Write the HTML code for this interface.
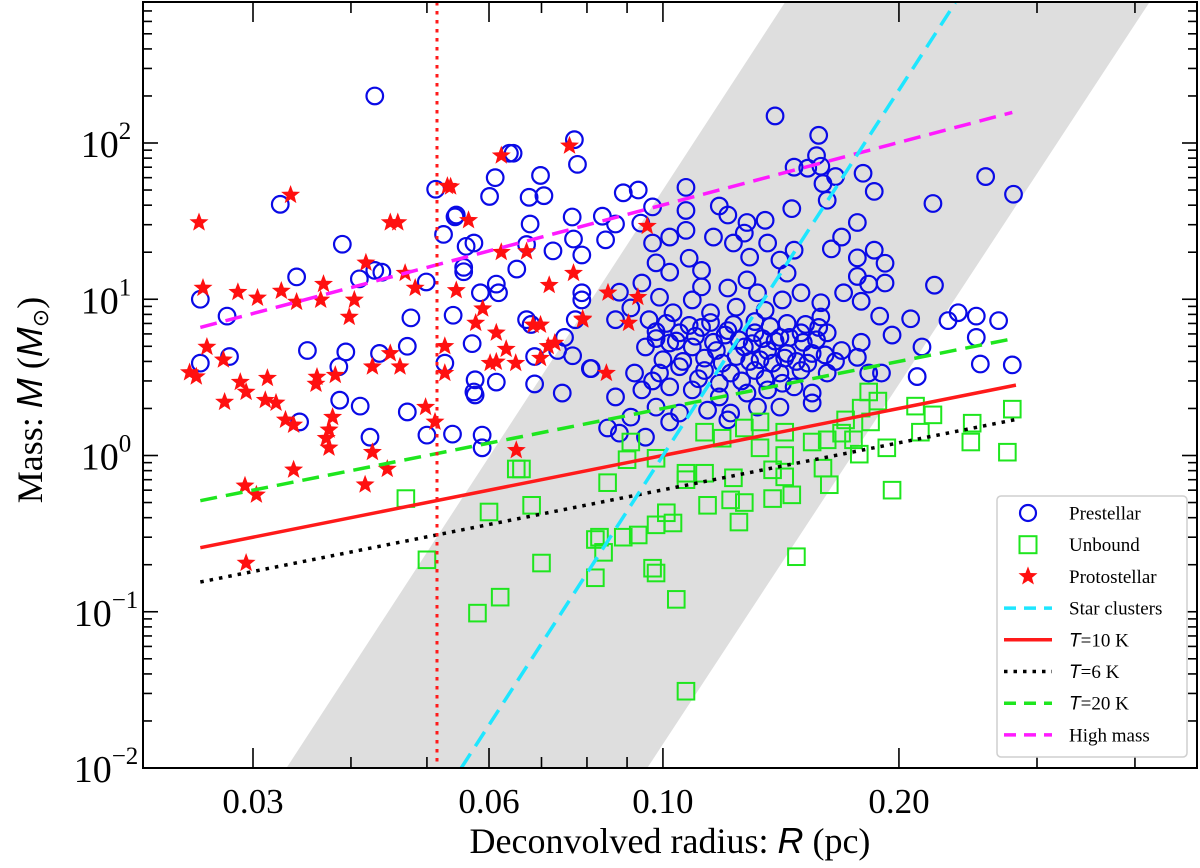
<!DOCTYPE html>
<html><head><meta charset="utf-8">
<style>
html,body{margin:0;padding:0;background:#fff;}
svg{display:block;font-family:"Liberation Serif",serif;}
</style></head>
<body>
<svg id="chart" width="1200" height="868" viewBox="0 0 1200 868" xmlns="http://www.w3.org/2000/svg">
<defs><clipPath id="plotclip"><rect x="143" y="2" width="1054" height="766"/></clipPath></defs>
<g id="band" clip-path="url(#plotclip)"></g>
<g id="pts" clip-path="url(#plotclip)"></g>
<g id="lines" clip-path="url(#plotclip)"></g>
<g id="axes"></g>
<g id="legend"></g>
<text x="670" y="853" font-size="36" text-anchor="middle">Deconvolved radius: <tspan font-family="Liberation Sans, sans-serif" font-style="italic">R</tspan> (pc)</text>
<text transform="translate(42,400) rotate(-90)" font-size="36" text-anchor="middle">Mass: <tspan font-family="Liberation Sans, sans-serif" font-style="italic">M</tspan> (<tspan font-family="Liberation Sans, sans-serif" font-style="italic">M</tspan><tspan font-size="22" dy="6">⊙</tspan><tspan dy="-6">)</tspan></text>
</svg>
<script>
const prestellarR=[0.0429,0.0325,0.0390,0.0341,0.0257,0.0278,0.0280,0.0257,0.0352,0.0394,0.0386,0.0435,0.0472,0.0477,0.0499,0.0410,0.0429,0.0438,0.0513,0.0637,0.0644,0.0611,0.0601,0.0675,0.0698,0.0705,0.0771,0.0778,0.0543,0.0545,0.0525,0.0561,0.0574,0.0557,0.0557,0.0677,0.0670,0.0651,0.0724,0.0766,0.0769,0.0788,0.0585,0.0613,0.0617,0.0540,0.0571,0.0527,0.0576,0.0576,0.0574,0.0613,0.0670,0.0679,0.0686,0.0744,0.0734,0.0749,0.0767,0.0773,0.0788,0.0788,0.0686,0.0808,0.0387,0.0411,0.0344,0.0423,0.0472,0.0500,0.0539,0.0588,0.0588,
0.139,0.158,0.157,0.147,0.153,0.159,0.166,0.160,0.162,0.180,0.186,0.258,0.280,0.221,0.177,0.169,0.164,0.177,0.186,0.192,0.177,0.183,0.192,0.170,0.179,0.222,0.189,0.207,0.196,0.231,0.238,0.251,0.268,0.251,0.214,0.254,0.279,0.211,0.179,0.183,0.190,
0.107,0.089,0.093,0.097,0.107,0.118,0.121,0.146,0.0837,0.087,0.0845,0.0937,0.097,0.102,0.135,0.128,0.127,0.136,0.107,0.116,0.123,0.147,0.129,0.098,0.102,0.112,0.108,0.141,0.144,0.121,0.112,0.094,0.088,0.099,0.091,0.087,0.096,0.103,0.109,0.128,0.132,0.150,0.142,0.159,0.115,0.124,0.135,0.159,0.098,0.105,0.112,0.121,0.131,0.141,0.150,0.162,0.095,0.102,0.109,0.117,0.127,0.136,0.144,0.155,0.169,0.177,0.081,0.092,0.099,0.105,0.113,0.122,0.131,0.141,0.150,0.162,0.087,0.094,0.102,0.109,0.118,0.128,0.136,0.147,0.155,0.091,0.098,0.105,0.114,0.122,0.132,0.141,0.155,0.085,0.102,0.121,0.095,0.088,
0.098,0.104,0.110,0.116,0.120,0.125,0.130,0.134,0.139,0.145,0.151,0.157,0.100,0.106,0.113,0.119,0.124,0.129,0.133,0.138,0.143,0.148,0.153,0.161,0.166,0.101,0.108,0.115,0.123,0.131,0.137,0.144,0.152,0.158,0.097,0.111,0.118,0.126,0.135,0.142];
const prestellarM=[200,40.5,22.5,13.9,10,7.8,4.3,3.9,4.7,4.6,3.7,4.5,5.0,7.6,12.9,13.5,15.3,14.9,50.6,86,86,60,45.5,44.9,62,46,105,73,33.7,34.6,26,21.8,22.9,16,15,30.3,22.4,15.6,20.4,33.6,24.3,19.2,11,12.5,11,7.9,5.2,3.9,3.05,2.44,2.55,2.95,7.4,6.9,2.87,2.51,4.7,5.7,4.35,7.4,11,9.9,4.3,3.6,2.26,2.07,1.64,1.31,1.9,1.35,1.37,1.35,1.12,
149,112,83,70,69,71,61,55,43,64,49,61,47,41,31,25,21,18.4,20.6,17,14,12.5,12.7,11,9.7,12.3,7.8,7.5,5.9,7.3,8.2,7.8,7.3,5.7,4.95,3.85,3.8,3.2,5.3,3.37,3.37,
52,48,50,39,37,39.5,34.6,38,34,30.3,24,30.7,22.9,25,32,31,26.5,22.9,27.6,25,22.9,20.6,18.6,17.1,14.9,15.3,18.3,17.8,14.7,11.8,12,12.7,11.1,10.3,8.8,7.4,7.4,8.2,9.9,13.3,11,11,9.9,9.5,8.2,8.9,8.5,7.7,6.2,6.1,6.6,6.3,6.1,5.7,6.1,6.1,4.95,5.25,4.95,4.7,4.95,4.7,4.5,4.5,4.7,4.25,3.6,3.37,3.37,3.7,3.5,3.37,3.5,3.37,3.5,3.37,2.37,2.63,2.75,2.63,2.37,2.51,2.63,2.75,2.51,1.76,2.04,1.87,1.95,1.87,2.04,2.04,2.17,1.5,1.64,1.69,1.31,1.39,
5.6,5.4,5.8,5.3,5.9,5.5,5.2,5.6,5.4,5.7,5.3,5.5,4.1,4.0,4.2,3.9,4.3,4.0,4.1,3.9,4.2,4.0,3.9,4.4,4.0,7.0,6.8,7.1,6.9,7.2,6.7,7.0,6.9,6.6,3.0,3.1,2.9,3.0,3.1,2.9];
const unboundR=[0.279,0.275,0.248,0.247,0.221,0.210,0.213,0.193,0.196,0.183,0.188,0.184,0.179,0.171,0.175,0.178,0.169,0.162,0.155,0.160,0.163,0.148,0.146,0.143,0.143,0.143,0.138,0.138,0.133,0.133,0.127,0.123,0.127,0.122,0.125,0.114,0.113,0.107,0.107,0.113,0.119,0.098,0.090,0.091,0.085,0.101,0.103,0.098,0.093,0.089,0.083,0.084,0.082,0.097,0.098,0.104,0.107,0.047,0.050,0.060,0.068,0.070,0.058,0.062,0.065,0.066,0.082];
const unboundM=[1.98,1.05,1.61,1.22,1.82,2.07,1.41,1.12,0.60,2.55,2.23,1.64,2.01,1.69,1.26,1.02,1.39,1.26,1.22,0.83,0.65,0.225,0.56,0.73,1.0,1.41,0.81,0.53,1.12,1.64,1.5,0.72,0.50,0.52,0.375,0.48,0.77,0.70,0.77,1.41,1.29,0.96,0.94,1.22,0.67,0.43,0.37,0.36,0.31,0.30,0.30,0.24,0.165,0.19,0.177,0.12,0.031,0.53,0.215,0.435,0.48,0.205,0.098,0.124,0.82,0.82,0.29];
const protoR=[0.0256,0.0335,0.0449,0.0459,0.0622,0.0760,0.0531,0.0536,0.0565,0.0259,0.0287,0.0304,0.0326,0.0341,0.0369,0.0366,0.0404,0.0398,0.0418,0.0469,0.0483,0.0545,0.0622,0.0670,0.0769,0.0716,0.0589,0.0577,0.0613,0.0631,0.0602,0.0613,0.0649,0.0683,0.0698,0.0714,0.0728,0.0698,0.0790,0.0527,0.0527,0.0262,0.0275,0.0249,0.0254,0.0289,0.0294,0.0313,0.0276,0.0311,0.0321,0.0330,0.0338,0.0362,0.0361,0.0382,0.0426,0.0449,0.0462,0.0379,0.0375,0.0372,0.0375,0.0498,0.0512,0.0426,0.0650,0.0338,0.0445,0.0293,0.0303,0.0417,0.0294,0.0955,0.0851,0.0929,0.0790,0.0904,0.0847];
const protoM=[31,46.5,31,31,83,96,53,52.5,32,11.8,11.1,10.2,11.3,9.6,12.5,9.9,9.9,7.7,17.1,14.7,11.8,11.4,20,20.2,14.7,12.3,8.7,7.05,6.1,4.8,3.9,3.97,3.9,6.85,6.85,5.0,5.25,4.2,7.4,5.0,3.37,4.95,4.1,3.4,3.2,2.95,2.55,3.13,2.2,2.26,2.17,1.69,1.57,3.18,2.87,3.27,3.7,4.5,3.7,1.76,1.46,1.29,1.12,2.04,1.64,1.05,1.08,0.81,0.82,0.64,0.56,0.65,0.205,29.4,11,10.3,7.5,7.05,3.37];
// model lines: [R_start, R_end], [M_start, M_end]
const t10R=[0.0257,0.282], t10M=[0.257,2.82];
const t6R=[0.0257,0.282], t6M=[0.155,1.70];
const t20R=[0.0257,0.282], t20M=[0.514,5.64];
const highR=[0.0257,0.279], highM=[6.6,157];
const clusterR=[0.0553,0.236], clusterM=[0.01,790];
const bandLowR=[0.0331,0.143], bandHighR=[0.0955,0.417], bandM=[0.01,790];
const resolutionR=0.0515;
const xTickVals=[0.03,0.04,0.05,0.06,0.07,0.08,0.09,0.1,0.2,0.3,0.4];
const xTickMajor=[true,false,false,true,false,false,false,true,true,false,false];
const xTickLabels=["0.03","","","0.06","","","","0.10","0.20","",""];
const yDecades=[-2,-1,0,1,2];

const NS="http://www.w3.org/2000/svg";
const X0=143,X1=1197,Y0=2,Y1=768;
function xs(r){return 253+784*Math.log10(r/0.03);}
function ys(m){return 455.5-156.25*Math.log10(m);}
function mk(tag,attrs,parent){const e=document.createElementNS(NS,tag);for(const k in attrs)e.setAttribute(k,attrs[k]);parent.appendChild(e);return e;}
const band=document.getElementById('band'),pts=document.getElementById('pts'),lines=document.getElementById('lines'),axes=document.getElementById('axes'),legend=document.getElementById('legend');

const bp=mk('polygon',{points:[[xs(bandLowR[0]),ys(bandM[0])],[xs(bandLowR[1]),ys(bandM[1])],[xs(bandHighR[1]),ys(bandM[1])],[xs(bandHighR[0]),ys(bandM[0])]].map(p=>p.join(',')).join(' '),fill:'#dedede'},band);



function starPath(cx,cy,ro){const ri=ro*0.42;let d='';for(let i=0;i<10;i++){const a=-Math.PI/2+i*Math.PI/5;const r=i%2?ri:ro;d+=(i?'L':'M')+(cx+r*Math.cos(a)).toFixed(1)+','+(cy+r*Math.sin(a)).toFixed(1);}return d+'Z';}
for(let i=0;i<prestellarR.length;i++){
  const c=mk('circle',{cx:xs(prestellarR[i]),cy:ys(prestellarM[i]),r:8.3,fill:'none',stroke:'#0a0ae6','stroke-width':2.2},pts);
  
  
}
for(let i=0;i<unboundR.length;i++){
  const s=mk('rect',{x:xs(unboundR[i])-8.3,y:ys(unboundM[i])-8.3,width:16.6,height:16.6,fill:'none',stroke:'#1ee61e','stroke-width':2},pts);
  
  
}
for(let i=0;i<protoR.length;i++){
  const p=mk('path',{d:starPath(xs(protoR[i]),ys(protoM[i]),10),fill:'#ff1010',stroke:'none'},pts);
  
  
}

function ln(R,M,style){return mk('line',Object.assign({x1:xs(R[0]),y1:ys(M[0]),x2:xs(R[1]),y2:ys(M[1]),fill:'none'},style),lines);}
let l;
l=ln(t6R,t6M,{stroke:'#000','stroke-width':3.5,'stroke-dasharray':'3.5 6'});


l=ln(t10R,t10M,{stroke:'#ff1a1a','stroke-width':3.5});


l=ln(t20R,t20M,{stroke:'#1ee61e','stroke-width':3.5,'stroke-dasharray':'17 9'});


l=ln(highR,highM,{stroke:'#ff1aff','stroke-width':3.5,'stroke-dasharray':'17 9'});


l=ln(clusterR,clusterM,{stroke:'#1ee6ff','stroke-width':3.5,'stroke-dasharray':'17 9'});


l=mk('line',{x1:xs(resolutionR),y1:Y0,x2:xs(resolutionR),y2:Y1,stroke:'#ff1a1a','stroke-width':3,'stroke-dasharray':'3.5 5.5'},lines);



const fr=mk('rect',{x:X0,y:Y0,width:X1-X0,height:Y1-Y0,fill:'none',stroke:'#000','stroke-width':2},axes);


for(let i=0;i<xTickVals.length;i++){
  const x=xs(xTickVals[i]);const len=xTickMajor[i]?20:11;
  const t=mk('line',{x1:x,y1:Y1,x2:x,y2:Y1-len,stroke:'#000','stroke-width':1.6},axes);
  
  
  const t2=mk('line',{x1:x,y1:Y0,x2:x,y2:Y0+len,stroke:'#000','stroke-width':1.6},axes);
  
  
  if(xTickLabels[i]){
    const tx=mk('text',{x:x,y:813,'font-size':35,'text-anchor':'middle'},axes);tx.textContent=xTickLabels[i];
    
    
  }
}
for(const d of yDecades.concat([3])){
  for(let k=1;k<10;k++){
    const y=ys(k*Math.pow(10,d));if(y<Y0||y>Y1)continue;
    const len=k===1?15:9;
    const t=mk('line',{x1:X0,y1:y,x2:X0+len,y2:y,stroke:'#000','stroke-width':1.6},axes);
    
    
    const t2=mk('line',{x1:X1,y1:y,x2:X1-len,y2:y,stroke:'#000','stroke-width':1.6},axes);
    
    
  }
}
for(const d of yDecades){
  const y=ys(Math.pow(10,d));
  const tx=mk('text',{x:106,y:y+14,'font-size':38,'text-anchor':'middle'},axes);
  tx.innerHTML='10<tspan font-size="25" dy="-18">'+(d<0?'\u2212'+(-d):d)+'</tspan>';
  
  
}

const lb=mk('rect',{x:997,y:496,width:190,height:261,rx:4,fill:'#fff',stroke:'#cfcfcf','stroke-width':1.5},legend);


const legLabels=['Prestellar','Unbound','Protostellar','Star clusters','T=10 K','T=6 K','T=20 K','High mass'];
for(let i=0;i<legLabels.length;i++){
  const y=513+i*31.7;const g=mk('g',{},legend);
  
  
  if(i===0)mk('circle',{cx:1028,cy:y,r:8,fill:'none',stroke:'#0a0ae6','stroke-width':2.2},g);
  else if(i===1)mk('rect',{x:1019.5,y:y-8.5,width:17,height:17,fill:'none',stroke:'#1ee61e','stroke-width':2},g);
  else if(i===2)mk('path',{d:starPath(1028,y,10),fill:'#ff1010'},g);
  else{
    const st=[null,null,null,{stroke:'#1ee6ff',d:'12 8'},{stroke:'#ff1a1a',d:''},{stroke:'#000',d:'3.5 6'},{stroke:'#1ee61e',d:'12 8'},{stroke:'#ff1aff',d:'12 8'}][i];
    const a={x1:1004,y1:y,x2:1052,y2:y,stroke:st.stroke,'stroke-width':3.5};if(st.d)a['stroke-dasharray']=st.d;mk('line',a,g);
  }
  const tx=mk('text',{x:1069,y:y+6.5,'font-size':19},g);
  if(legLabels[i].startsWith('T=')){tx.innerHTML='<tspan font-family="Liberation Sans, sans-serif" font-style="italic">T</tspan>'+legLabels[i].slice(1);}
  else tx.textContent=legLabels[i];
}
</script>
</body></html>
